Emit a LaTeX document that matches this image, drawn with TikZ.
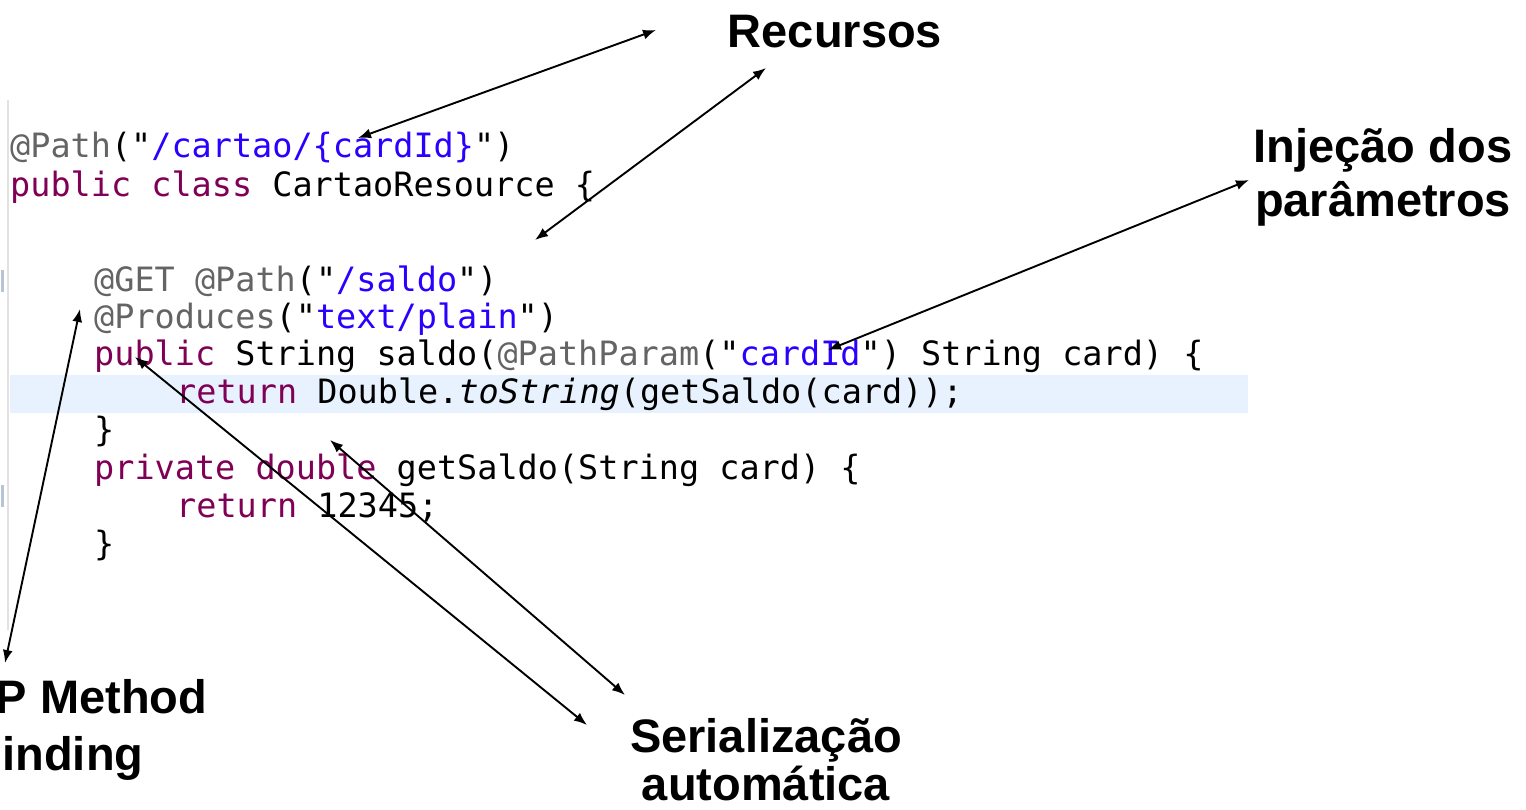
\documentclass[tikz,border=0pt]{standalone}
\usepackage{fontspec}
\setmainfont{Liberation Sans}
\setmonofont{DejaVu Sans Mono}
\usetikzlibrary{arrows.meta}
\definecolor{annot}{HTML}{646464}
\definecolor{jstr}{HTML}{2A00FF}
\definecolor{jkw}{HTML}{7F0055}
\definecolor{hl}{HTML}{E8F2FE}
\definecolor{gut}{HTML}{E2E2E2}
\definecolor{gutmark}{HTML}{B8C4D4}
\begin{document}
\begin{tikzpicture}[x=1pt,y=-1pt,
 code/.style={anchor=base west, inner sep=0pt, font=\fontsize{33.5}{38}\selectfont\ttfamily},
 lbl/.style={anchor=base, inner sep=0pt, font=\fontsize{47}{55}\selectfont\bfseries},
 dbl/.style={line width=1.9pt, {Latex[length=13pt,width=10pt]}-{Latex[length=13pt,width=10pt]}}]
\useasboundingbox (0,0) rectangle (1526,809);
% editor background details
\fill[hl] (10,375) rectangle (1248,413);
\draw[gut, line width=1.5pt] (8,100) -- (8,630);
\fill[gutmark] (1,270) rectangle (4,292);
\fill[gutmark] (1,485) rectangle (4,507);
% code
\node[code] (l1) at (10,157) {{\color{annot}@Path}("{\color{jstr}/cartao/\{cardId\}}")};
\node[code] (l2) at (10,196) {{\color{jkw}public class} CartaoResource \{};
\node[code] (l3) at (94,291) {{\color{annot}@GET @Path}("{\color{jstr}/saldo}")};
\node[code] (l4) at (94,328) {{\color{annot}@Produces}("{\color{jstr}text/plain}")};
\node[code] (l5) at (94,365) {{\color{jkw}public} String saldo({\color{annot}@PathParam}("{\color{jstr}cardId}") String card) \{};
\node[code] (l6) at (176,403) {{\color{jkw}return} Double.\textit{toString}(getSaldo(card));};
\node[code] (l7) at (94,441) {\}};
\node[code] (l8) at (94,479) {{\color{jkw}private double} getSaldo(String card) \{};
\node[code] (l9) at (176,517) {{\color{jkw}return} 12345;};
\node[code] (l10) at (94,555) {\}};
% labels
\node[lbl] (rec) at (835,47) {Recursos};
\node[lbl] (inj1) at (1383,162) {Injeção dos};
\node[lbl] (inj2) at (1383,216) {parâmetros};
\node[lbl] (http1) at (56,713) {HTTP Method};
\node[lbl] (http2) at (56,770) {Binding};
\node[lbl] (ser1) at (766,752) {Serialização};
\node[lbl] (ser2) at (766,800) {automática};
% arrow ends
\coordinate (a1s) at (358,138); \coordinate (a1e) at (656,30);
\coordinate (a2s) at (535,240); \coordinate (a2e) at (766,68);
\coordinate (a3s) at (828,350); \coordinate (a3e) at (1249,180);
\coordinate (a4s) at (80,309);  \coordinate (a4e) at (5,663);
\coordinate (a5s) at (135,357); \coordinate (a5e) at (587,725);
\coordinate (a6s) at (330,440); \coordinate (a6e) at (625,695);
\draw[dbl] (a1s) -- (a1e);
\draw[dbl] (a2s) -- (a2e);
\draw[dbl] (a3s) -- (a3e);
\draw[dbl] (a4s) -- (a4e);
\draw[dbl] (a5s) -- (a5e);
\draw[dbl] (a6s) -- (a6e);
\end{tikzpicture}
\end{document}
